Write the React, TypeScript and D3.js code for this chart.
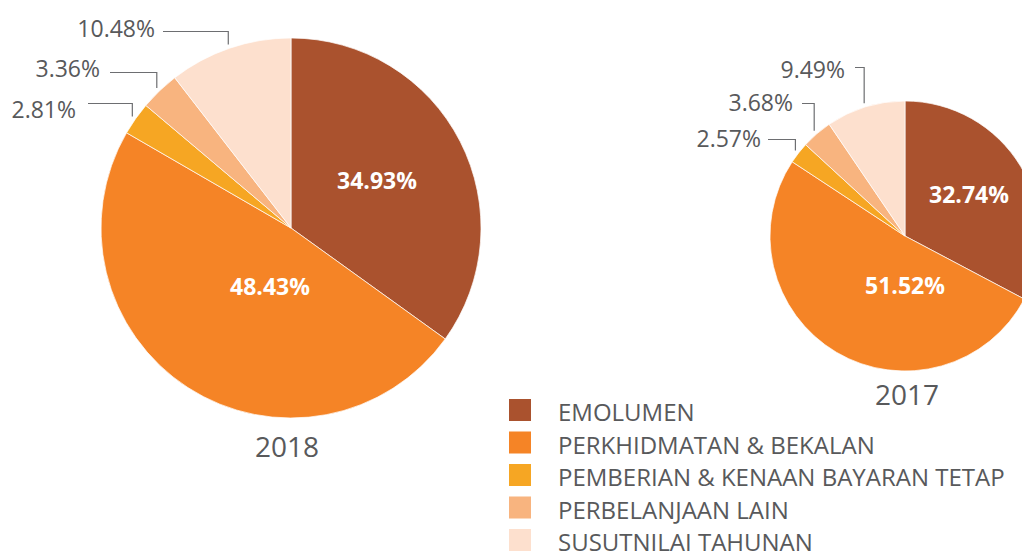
import React from "react";
import * as d3 from "d3";

const categories = [
  "EMOLUMEN",
  "PERKHIDMATAN & BEKALAN",
  "PEMBERIAN & KENAAN BAYARAN TETAP",
  "PERBELANJAAN LAIN",
  "SUSUTNILAI TAHUNAN",
];
const values2018 = [34.93, 48.43, 2.81, 3.36, 10.48];
const values2017 = [32.74, 51.52, 2.57, 3.68, 9.49];
const years = ["2018", "2017"];
const colors = ["#AA522E", "#F58426", "#F6A623", "#F8B47F", "#FDE0CE"];

// layout
const W = 1022;
const H = 552;
const FONT = "'Open Sans', 'Noto Sans', sans-serif";
const TEXT = "#58595B";

type OuterLabel = { idx: number; lineY: number; lineLeft: number; textRight: number; baseline: number };
type PieLayout = {
  cx: number; cy: number; r: number; yearX: number; yearY: number;
  inner: { idx: number; x: number; y: number }[];
  outer: OuterLabel[];
};

const layouts: PieLayout[] = [
  {
    cx: 291, cy: 228, r: 190, yearX: 287, yearY: 457,
    inner: [{ idx: 0, x: 377, y: 189 }, { idx: 1, x: 270, y: 295 }],
    outer: [
      { idx: 4, lineY: 31.5, lineLeft: 163, textRight: 155, baseline: 37 },
      { idx: 3, lineY: 72.5, lineLeft: 110, textRight: 100, baseline: 77 },
      { idx: 2, lineY: 103.5, lineLeft: 88, textRight: 76, baseline: 118 },
    ],
  },
  {
    cx: 905, cy: 236, r: 135, yearX: 907, yearY: 405,
    inner: [{ idx: 0, x: 969, y: 203 }, { idx: 1, x: 905, y: 294 }],
    outer: [
      { idx: 4, lineY: 67.5, lineLeft: 855, textRight: 845, baseline: 78 },
      { idx: 3, lineY: 103.5, lineLeft: 802, textRight: 793, baseline: 111 },
      { idx: 2, lineY: 139.5, lineLeft: 768, textRight: 761, baseline: 147 },
    ],
  },
];

const legendX = 509;
const legendY = 399;
const legendStep = 32.5;

function Pie({ values, year, layout }: { values: number[]; year: string; layout: PieLayout }) {
  const pie = d3.pie<number>().sort(null).value((d) => d);
  const arcs = pie(values);
  const arc = d3.arc<d3.PieArcDatum<number>>().innerRadius(0).outerRadius(layout.r);
  const fmt = (v: number) => v.toFixed(2) + "%";
  return (
    <g>
      <g transform={`translate(${layout.cx},${layout.cy})`}>
        {arcs.map((a, i) => (
          <path key={i} d={arc(a) || ""} fill={colors[i]} stroke="#fff" strokeWidth={0.7} />
        ))}
      </g>
      {layout.inner.map((l) => (
        <text key={"in" + l.idx} x={l.x} y={l.y} textAnchor="middle" fill="#fff"
          fontFamily={FONT} fontWeight={700} fontSize={23}>
          {fmt(values[l.idx])}
        </text>
      ))}
      {layout.outer.map((l) => {
        const a = arcs[l.idx];
        const mid = (a.startAngle + a.endAngle) / 2;
        const rr = layout.r + 4;
        const ax = layout.cx + rr * Math.sin(mid);
        const ay = layout.cy - rr * Math.cos(mid);
        return (
          <g key={"out" + l.idx}>
            <polyline points={`${l.lineLeft},${l.lineY} ${ax},${l.lineY} ${ax},${ay}`}
              fill="none" stroke="#6D6E71" strokeWidth={1.2} />
            <text x={l.textRight} y={l.baseline} textAnchor="end" fill={TEXT}
              fontFamily={FONT} fontSize={23}>
              {fmt(values[l.idx])}
            </text>
          </g>
        );
      })}
      <text x={layout.yearX} y={layout.yearY} textAnchor="middle" fill={TEXT}
        fontFamily={FONT} fontSize={28}>
        {year}
      </text>
    </g>
  );
}

export default function App() {
  return (
    <svg width={W} height={H} style={{ position: "absolute", left: 0, top: 0, background: "#fff" }}>
      <Pie values={values2018} year={years[0]} layout={layouts[0]} />
      <Pie values={values2017} year={years[1]} layout={layouts[1]} />
      <g>
        {categories.map((c, i) => (
          <g key={c} transform={`translate(${legendX},${legendY + i * legendStep})`}>
            <rect width={22} height={22} fill={colors[i]} />
            <text x={49} y={22} fill={TEXT} fontFamily={FONT} fontSize={24}>{c}</text>
          </g>
        ))}
      </g>
    </svg>
  );
}
